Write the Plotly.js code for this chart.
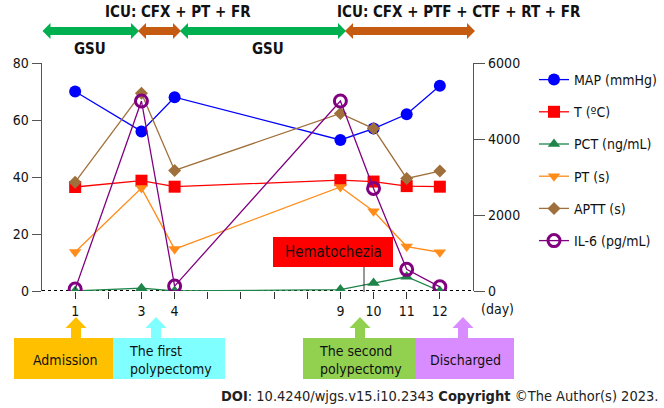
<!DOCTYPE html>
<html>
<head>
<meta charset="utf-8">
<script src="https://cdn.plot.ly/plotly-3.0.1.min.js"></script>
<style>html,body{margin:0;padding:0;background:#fff;}#chart{width:664px;height:408px;}</style>
</head>
<body>
<div id="chart"></div>
<script>
// ---- data ----
const days = [1, 3, 4, 9, 10, 11, 12];
const mapVals = [70, 56, 68, 53, 57, 62, 72];
const tVals = [36.5, 38.7, 36.6, 38.9, 38.4, 36.8, 36.6];
const pctVals = [0, 1.0, 0, 0.5, 2.8, 5.0, 0];
const ptVals = [13.7, 36.1, 14.7, 36.5, 28, 15.6, 13.6];
const apttVals = [38.2, 69.4, 42.3, 62.3, 57, 39.5, 42.1];
const il6Vals = [50, 5000, 130, 5000, 2700, 570, 110];
const tickDays = [1, 2, 3, 4, 5, 6, 7, 8, 9, 10, 11, 12];
const tickLabels = ['1', '', '3', '4', '', '', '', '', '9', '10', '11', '12'];
const seriesNames = ['MAP (mmHg)', 'T (ºC)', 'PCT (ng/mL)', 'PT (s)', 'APTT (s)', 'IL-6 (pg/mL)'];

const FONT = 'DejaVu Sans Condensed, DejaVu Sans, sans-serif';
const L = 42, R = 473, T = 63, B = 291;
const px = x => (x - L) / (R - L);
const py = y => (B - y) / (B - T);

function tr(name, y, color, symbol, size, axis, extra) {
  const t = {
    x: days, y: y, name: name, type: 'scatter', mode: 'lines+markers',
    line: {color: color, width: 1.3},
    marker: Object.assign({color: color, symbol: symbol, size: size}, extra || {}),
    legendgroup: name
  };
  if (axis) t.yaxis = axis;
  return t;
}

const traces = [
  tr(seriesNames[0], mapVals, '#0000FF', 'circle', 12),
  tr(seriesNames[1], tVals, '#FF0000', 'square', 12),
  tr(seriesNames[2], pctVals, '#1E8449', 'triangle-up', 11),
  tr(seriesNames[3], ptVals, '#FF8C1A', 'triangle-down', 11),
  tr(seriesNames[4], apttVals, '#A0703C', 'diamond', 10),
  tr(seriesNames[5], il6Vals, '#800080', 'circle-open', 12, 'y2', {line: {width: 3, color: '#800080'}})
];

// ---- decorations ----
function hArrow(x0, x1, y, color) {
  const hl = 8, hh = 8, st = 4;
  const pts = [[x0, y], [x0 + hl, y - hh], [x0 + hl, y - st], [x1 - hl, y - st], [x1 - hl, y - hh], [x1, y],
               [x1 - hl, y + hh], [x1 - hl, y + st], [x0 + hl, y + st], [x0 + hl, y + hh]];
  return {type: 'path', xref: 'paper', yref: 'paper', fillcolor: color, line: {width: 0},
    path: 'M ' + pts.map(p => px(p[0]).toFixed(4) + ',' + py(p[1]).toFixed(4)).join(' L ') + ' Z'};
}
function upArrow(cx, color) {
  const top = 317, hb = 328, bot = 339, hw = 10.5, sw = 5;
  const pts = [[cx, top], [cx + hw, hb], [cx + sw, hb], [cx + sw, bot], [cx - sw, bot], [cx - sw, hb], [cx - hw, hb]];
  return {type: 'path', xref: 'paper', yref: 'paper', fillcolor: color, line: {width: 0},
    path: 'M ' + pts.map(p => px(p[0]).toFixed(4) + ',' + py(p[1]).toFixed(4)).join(' L ') + ' Z'};
}
function rect(x0, x1, y0, y1, color) {
  return {type: 'rect', xref: 'paper', yref: 'paper', x0: px(x0), x1: px(x1), y0: py(y1), y1: py(y0),
    fillcolor: color, line: {width: 0}};
}
function txt(x, y, text, opts) {
  return Object.assign({xref: 'paper', yref: 'paper', x: px(x), y: py(y), text: text, showarrow: false,
    xanchor: 'center', yanchor: 'middle', font: {family: FONT, size: 14, color: '#111'}}, opts || {});
}

const shapes = [
  {type: 'line', xref: 'paper', yref: 'y', x0: 0, x1: 1, y0: 0, y1: 0, layer: 'below',
   line: {color: '#000', width: 2, dash: 'dot'}},
  hArrow(42.5, 139, 31, '#00B050'),
  hArrow(138, 181, 31, '#C55A11'),
  hArrow(180, 346, 31, '#00B050'),
  hArrow(345, 475, 31, '#C55A11'),
  upArrow(76, '#FFC000'),
  upArrow(156, '#7FFFFF'),
  upArrow(360, '#92D050'),
  upArrow(463, '#D98CFF'),
  rect(14, 113, 338, 379, '#FFC000'),
  rect(113, 225, 338, 379, '#7FFFFF'),
  rect(303, 416, 338, 379, '#92D050'),
  rect(416, 514, 338, 379, '#D98CFF'),
  rect(273, 393, 237, 267, '#FF0000'),
  {type: 'line', xref: 'paper', yref: 'paper', x0: px(364), x1: px(364), y0: py(267), y1: py(292),
   line: {color: '#333', width: 1}}
];

const annotations = [
  txt(178, 12, '<b>ICU: CFX + PT + FR</b>', {font: {family: FONT, size: 15, color: '#111'}}),
  txt(459, 12, '<b>ICU: CFX + PTF + CTF + RT + FR</b>', {font: {family: FONT, size: 15, color: '#111'}}),
  txt(90, 49, '<b>GSU</b>', {font: {family: FONT, size: 15, color: '#111'}}),
  txt(268, 49, '<b>GSU</b>', {font: {family: FONT, size: 15, color: '#111'}}),
  txt(497, 309, '(day)'),
  txt(65, 360, 'Admission'),
  txt(127, 360, 'The first<br>polypectomy', {xanchor: 'left', align: 'left'}),
  txt(317, 360, 'The second<br>polypectomy', {xanchor: 'left', align: 'left'}),
  txt(465, 360, 'Discharged'),
  txt(333, 252, 'Hematochezia', {font: {family: FONT, size: 15, color: '#111'}}),
  txt(660, 396, '<b>DOI</b>: 10.4240/wjgs.v15.i10.2343 <b>Copyright</b> ©The Author(s) 2023.',
      {xanchor: 'right', font: {family: FONT, size: 14.5, color: '#222'}})
];

const layout = {
  width: 664, height: 408,
  margin: {l: L, r: 664 - R, t: T, b: 408 - B, pad: 0, autoexpand: false},
  paper_bgcolor: '#fff', plot_bgcolor: 'rgba(0,0,0,0)',
  font: {family: FONT, size: 14, color: '#222'},
  showlegend: true,
  legend: {x: px(534), y: py(64), xanchor: 'left', yanchor: 'top', traceorder: 'grouped',
    tracegroupgap: 11, bgcolor: 'rgba(0,0,0,0)', font: {family: FONT, size: 14, color: '#111'}},
  xaxis: {range: [0, 13], tickmode: 'array', tickvals: tickDays, ticktext: tickLabels,
    showgrid: false, zeroline: false, showline: false, ticks: 'outside', ticklen: 7,
    tickcolor: '#333', tickfont: {family: FONT, size: 14, color: '#111'}, fixedrange: true},
  yaxis: {range: [0, 80], tickvals: [0, 20, 40, 60, 80], showgrid: false, zeroline: false,
    showline: true, linecolor: '#555', linewidth: 1.3, ticks: 'outside', ticklen: 9, tickcolor: '#555',
    tickfont: {family: FONT, size: 14, color: '#111'}},
  yaxis2: {range: [0, 6000], tickvals: [0, 2000, 4000, 6000], overlaying: 'y', side: 'right', anchor: 'x',
    showgrid: false, zeroline: false, showline: true, linecolor: '#555', linewidth: 1.3,
    ticks: 'outside', ticklen: 11, tickcolor: '#555', tickfont: {family: FONT, size: 14, color: '#111'}},
  shapes: shapes,
  annotations: annotations
};

Plotly.newPlot('chart', traces, layout, {displayModeBar: false, staticPlot: true});
</script>
</body>
</html>
